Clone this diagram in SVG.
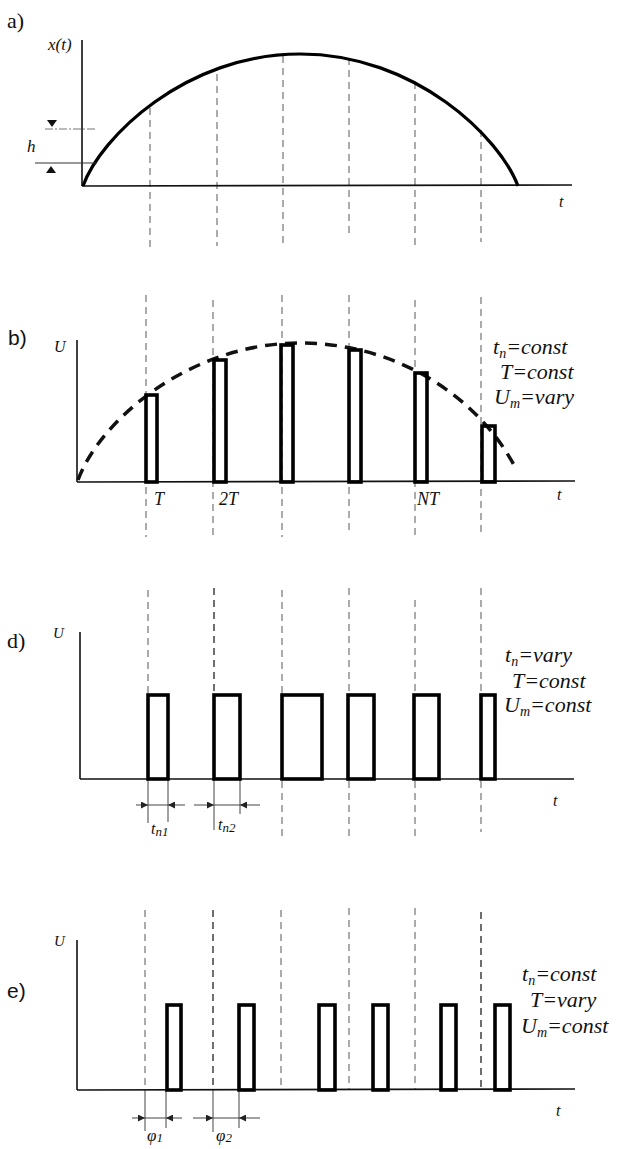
<svg xmlns="http://www.w3.org/2000/svg" width="622" height="1149" viewBox="0 0 622 1149">
<style>
.ax{stroke:#111;stroke-width:1.6;fill:none}
.pl{stroke:#000;stroke-width:3.6;fill:none}
.gd{stroke:#666;stroke-width:1.1;stroke-dasharray:7 5;fill:none}
.gdk{stroke:#222;stroke-width:1.3;stroke-dasharray:7 5;fill:none}
.tk{stroke:#444;stroke-width:1;fill:none}
.dim{stroke:#444;stroke-width:1;fill:none;marker-end:url(#ah)}
.pn{font-family:"Liberation Serif",serif;font-size:22px;fill:#111}
.pns{font-family:"Liberation Sans",sans-serif;font-size:21px;fill:#111}
.it{font-family:"Liberation Serif",serif;font-style:italic;fill:#111}
.lb{font-family:"Liberation Serif",serif;font-style:italic;font-size:22px;fill:#111}
</style>
<defs>
<marker id="ah" viewBox="0 0 10 10" refX="10" refY="5" markerWidth="9" markerHeight="7" orient="auto" markerUnits="userSpaceOnUse">
<path d="M0,0 L10,5 L0,10 z" fill="#222"/>
</marker>
</defs>

<g id="connectors">
<line class="gd" x1="150" y1="108" x2="150" y2="247"/>
<line class="gd" x1="217" y1="74" x2="217" y2="246"/>
<line class="gd" x1="283" y1="56" x2="283" y2="247"/>
<line class="gd" x1="349" y1="58" x2="349" y2="238"/>
<line class="gd" x1="415" y1="82" x2="415" y2="247"/>
<line class="gd" x1="481" y1="130" x2="481" y2="242"/>
<line class="gd" x1="146" y1="295" x2="146" y2="537"/>
<line class="gd" x1="213" y1="300" x2="213" y2="537"/>
<line class="gd" x1="282" y1="295" x2="282" y2="537"/>
<line class="gd" x1="349" y1="295" x2="349" y2="530"/>
<line class="gd" x1="415" y1="300" x2="415" y2="537"/>
<line class="gd" x1="481" y1="297" x2="481" y2="537"/>
<line class="gd" x1="148" y1="590" x2="148" y2="695"/>
<line class="gdk" x1="214" y1="588" x2="214" y2="695"/>
<line class="gd" x1="282" y1="590" x2="282" y2="695"/>
<line class="gd" x1="349" y1="588" x2="349" y2="695"/>
<line class="gd" x1="415" y1="600" x2="415" y2="695"/>
<line class="gd" x1="481" y1="588" x2="481" y2="695"/>
<line class="gd" x1="282" y1="781" x2="282" y2="840"/>
<line class="gd" x1="349" y1="781" x2="349" y2="840"/>
<line class="gd" x1="415" y1="781" x2="415" y2="840"/>
<line class="gd" x1="481" y1="781" x2="481" y2="832"/>
<line class="tk" x1="148" y1="780" x2="148" y2="823"/>
<line class="tk" x1="168" y1="780" x2="168" y2="822"/>
<line class="tk" x1="214" y1="780" x2="214" y2="830"/>
<line class="tk" x1="240" y1="780" x2="240" y2="814"/>
<line class="dim" x1="136" y1="805" x2="148" y2="805"/>
<line class="tk" x1="148" y1="805" x2="168" y2="805"/>
<line class="dim" x1="185" y1="805" x2="168" y2="805"/>
<line class="dim" x1="194" y1="805" x2="214" y2="805"/>
<line class="tk" x1="214" y1="805" x2="240" y2="805"/>
<line class="dim" x1="260" y1="805" x2="240" y2="805"/>
<line class="gd" x1="145" y1="910" x2="145" y2="1090"/>
<line class="gdk" x1="213" y1="910" x2="213" y2="1090"/>
<line class="gd" x1="281" y1="910" x2="281" y2="1090"/>
<line class="gd" x1="349" y1="908" x2="349" y2="1090"/>
<line class="gd" x1="415" y1="908" x2="415" y2="1090"/>
<line class="gdk" x1="481" y1="912" x2="481" y2="1090"/>
<line class="tk" x1="145" y1="1090" x2="145" y2="1131"/>
<line class="tk" x1="166" y1="1090" x2="166" y2="1128"/>
<line class="tk" x1="213" y1="1090" x2="213" y2="1132"/>
<line class="tk" x1="239" y1="1090" x2="239" y2="1128"/>
<line class="dim" x1="132" y1="1118" x2="145" y2="1118"/>
<line class="tk" x1="145" y1="1118" x2="166" y2="1118"/>
<line class="dim" x1="182" y1="1118" x2="166" y2="1118"/>
<line class="dim" x1="193" y1="1118" x2="213" y2="1118"/>
<line class="tk" x1="213" y1="1118" x2="239" y2="1118"/>
<line class="dim" x1="260" y1="1118" x2="239" y2="1118"/>
</g>

<g id="panel-a">
<text class="pn" x="7" y="28">a)</text>
<text class="it" font-size="17" x="48" y="50">x(t)</text>
<line class="ax" x1="82" y1="40" x2="82" y2="186"/>
<line class="ax" x1="82" y1="186" x2="572" y2="185"/>
<path d="M83,186 C100,138 185,54 300,54 C416,54 500,138 518,186" stroke="#000" stroke-width="3.2" fill="none"/>
<line x1="45" y1="129" x2="97" y2="129" stroke="#777" stroke-width="1" stroke-dasharray="8 2 2 2"/>
<line x1="35" y1="163" x2="97" y2="163" stroke="#333" stroke-width="1"/>
<polygon points="47,120 57,120 52,127" fill="#111"/>
<polygon points="46,173 56,173 51,166" fill="#111"/>
<text class="it" font-size="17" x="27" y="152">h</text>
<text class="it" font-size="16" x="559" y="207">t</text>
</g>

<g id="panel-b">
<text class="pns" x="8" y="345">b)</text>
<text class="it" font-size="16" x="54" y="352">U</text>
<line class="ax" x1="77" y1="340" x2="77" y2="482"/>
<line class="ax" x1="77" y1="482" x2="575" y2="481"/>
<path d="M78,480 C100,420 190,343 300,343 C400,343 480,400 515,467" stroke="#111" stroke-width="3.5" fill="none" stroke-dasharray="12 8"/>
<rect class="pl" x="146" y="395" width="11" height="87"/>
<rect class="pl" x="214" y="360" width="12" height="122"/>
<rect class="pl" x="281" y="345" width="12" height="137"/>
<rect class="pl" x="349" y="350" width="12" height="132"/>
<rect class="pl" x="415" y="373" width="12" height="109"/>
<rect class="pl" x="482" y="426" width="13" height="56"/>
<text class="it" font-size="18" x="154" y="505">T</text>
<text class="it" font-size="18" x="219" y="505">2T</text>
<text class="it" font-size="18" x="417" y="505">NT</text>
<text class="it" font-size="16" x="557" y="500">t</text>
<text class="lb" x="493" y="354">t<tspan font-size="14" dy="4">n</tspan><tspan dy="-4">=const</tspan></text>
<text class="lb" x="500" y="379">T=const</text>
<text class="lb" x="494" y="404">U<tspan font-size="14" dy="4">m</tspan><tspan dy="-4">=vary</tspan></text>
</g>

<g id="panel-d">
<text class="pn" x="7" y="648">d)</text>
<text class="it" font-size="15" x="53" y="638">U</text>
<line class="ax" x1="80" y1="632" x2="80" y2="779"/>
<line class="ax" x1="80" y1="779" x2="574" y2="779"/>
<rect class="pl" x="148" y="695" width="20" height="84"/>
<rect class="pl" x="214" y="695" width="26" height="84"/>
<rect class="pl" x="282" y="695" width="40" height="84"/>
<rect class="pl" x="348" y="695" width="26" height="84"/>
<rect class="pl" x="414" y="695" width="25" height="84"/>
<rect class="pl" x="481" y="695" width="14" height="84"/>
<text class="it" font-size="16" x="553" y="806">t</text>
<text class="it" font-size="16" x="151" y="834">t<tspan font-size="13" dy="2">n1</tspan></text>
<text class="it" font-size="16" x="218" y="830">t<tspan font-size="13" dy="2">n2</tspan></text>
<text class="lb" x="505" y="662">t<tspan font-size="14" dy="4">n</tspan><tspan dy="-4">=vary</tspan></text>
<text class="lb" x="512" y="688">T=const</text>
<text class="lb" x="504" y="712">U<tspan font-size="14" dy="4">m</tspan><tspan dy="-4">=const</tspan></text>
</g>

<g id="panel-e">
<text class="pns" x="7" y="998">e)</text>
<text class="it" font-size="15" x="54" y="946">U</text>
<line class="ax" x1="77" y1="940" x2="77" y2="1090"/>
<line class="ax" x1="77" y1="1090" x2="575" y2="1089"/>
<rect class="pl" x="167" y="1005" width="14" height="85"/>
<rect class="pl" x="239" y="1005" width="15" height="85"/>
<rect class="pl" x="319" y="1005" width="16" height="85"/>
<rect class="pl" x="373" y="1005" width="15" height="85"/>
<rect class="pl" x="441" y="1005" width="15" height="85"/>
<rect class="pl" x="495" y="1005" width="15" height="85"/>
<text class="it" font-size="16" x="556" y="1116">t</text>
<text class="it" font-size="17" x="147" y="1141">φ<tspan font-size="13" dy="1">1</tspan></text>
<text class="it" font-size="17" x="216" y="1141">φ<tspan font-size="13" dy="1">2</tspan></text>
<text class="lb" x="522" y="981">t<tspan font-size="14" dy="4">n</tspan><tspan dy="-4">=const</tspan></text>
<text class="lb" x="530" y="1007">T=vary</text>
<text class="lb" x="521" y="1033">U<tspan font-size="14" dy="4">m</tspan><tspan dy="-4">=const</tspan></text>
</g>
</svg>
